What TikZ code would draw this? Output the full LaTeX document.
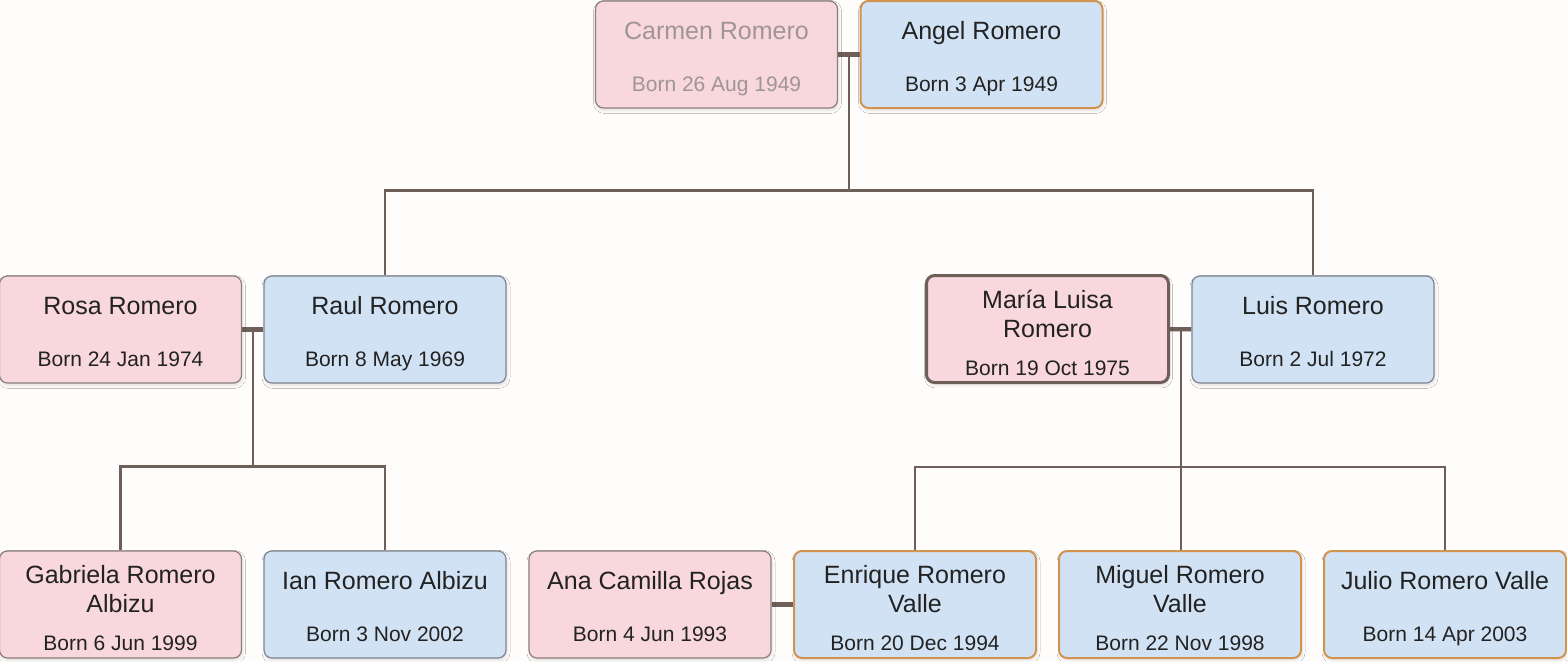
\documentclass[tikz,border=0pt]{standalone}
\usepackage{fontspec}
\setmainfont{Liberation Sans}
\usetikzlibrary{calc,shadows.blur}
\pgfdeclarelayer{background}
\pgfsetlayers{background,main}
\definecolor{pinkf}{HTML}{F8D7DD}
\definecolor{bluef}{HTML}{D1E2F4}
\definecolor{pinkb}{HTML}{8C7E7E}
\definecolor{blueb}{HTML}{7E8590}
\definecolor{orangeb}{HTML}{D2934F}
\definecolor{linec}{HTML}{6E5F58}
\definecolor{txt}{HTML}{222222}
\definecolor{faded}{HTML}{A09595}
\definecolor{bg}{HTML}{FEFDFC}
\begin{document}
\begin{tikzpicture}[x=0.5pt,y=-0.5pt,
 person/.style={rounded corners=4pt, minimum width=121pt, minimum height=53.5pt, inner sep=0pt, line width=0.6pt,
   blur shadow={shadow xshift=0.5pt, shadow yshift=-1.2pt, shadow opacity=12, shadow blur radius=1.5pt, shadow blur steps=4}},
 female/.style={person, fill=pinkf, draw=pinkb},
 male/.style={person, fill=bluef, draw=blueb},
 hl/.style={draw=orangeb, line width=1pt},
 focus/.style={draw=linec, line width=1.5pt},
 nm/.style={font=\fontsize{12.5}{14}\selectfont, text=txt, anchor=base, inner sep=0pt},
 bd/.style={font=\fontsize{10.5}{12}\selectfont, text=txt, anchor=base, inner sep=0pt},
 fadedtext/.style={text=faded},
 couple/.style={draw=linec, line width=2.2pt},
 link/.style={draw=linec, line width=1.1pt}]
\useasboundingbox (0,0) rectangle (1567,661);
% boxes
\node[female] (carmen) at (716.5,54.5) {};
\node[male,hl] (angel) at (981.5,54.5) {};
\node[female] (rosa) at (120.5,329.5) {};
\node[male] (raul) at (385,329.5) {};
\node[female,focus] (maria) at (1047.5,329) {};
\node[male] (luis) at (1313,329.5) {};
\node[female] (gab) at (120.5,604.5) {};
\node[male] (ian) at (385,604.5) {};
\node[female] (ana) at (650,604.5) {};
\node[male,hl] (enr) at (915,604.5) {};
\node[male,hl] (mig) at (1180,604.5) {};
\node[male,hl] (jul) at (1445,604.5) {};
% texts
\node[nm,fadedtext] (carmenN) at ($(carmen.north)+(0,39)$) {Carmen Romero};
\node[bd,fadedtext] (carmenB) at ($(carmen.north)+(0,91)$) {Born 26 Aug 1949};
\node[nm] (angelN) at ($(angel.north)+(0,39)$) {Angel Romero};
\node[bd] (angelB) at ($(angel.north)+(0,91)$) {Born 3 Apr 1949};
\node[nm] (rosaN) at ($(rosa.north)+(0,39)$) {Rosa Romero};
\node[bd] (rosaB) at ($(rosa.north)+(0,91)$) {Born 24 Jan 1974};
\node[nm] (raulN) at ($(raul.north)+(0,39)$) {Raul Romero};
\node[bd] (raulB) at ($(raul.north)+(0,91)$) {Born 8 May 1969};
\node[nm] (mariaN1) at ($(maria.north)+(0,34)$) {María Luisa};
\node[nm] (mariaN2) at ($(maria.north)+(0,63)$) {Romero};
\node[bd] (mariaB) at ($(maria.north)+(0,101)$) {Born 19 Oct 1975};
\node[nm] (luisN) at ($(luis.north)+(0,39)$) {Luis Romero};
\node[bd] (luisB) at ($(luis.north)+(0,91)$) {Born 2 Jul 1972};
\node[nm] (gabN1) at ($(gab.north)+(0,33)$) {Gabriela Romero};
\node[nm] (gabN2) at ($(gab.north)+(0,62)$) {Albizu};
\node[bd] (gabB) at ($(gab.north)+(0,100.5)$) {Born 6 Jun 1999};
\node[nm] (ianN) at ($(ian.north)+(0,39)$) {Ian Romero Albizu};
\node[bd] (ianB) at ($(ian.north)+(0,91)$) {Born 3 Nov 2002};
\node[nm] (anaN) at ($(ana.north)+(0,39)$) {Ana Camilla Rojas};
\node[bd] (anaB) at ($(ana.north)+(0,91)$) {Born 4 Jun 1993};
\node[nm] (enrN1) at ($(enr.north)+(0,33)$) {Enrique Romero};
\node[nm] (enrN2) at ($(enr.north)+(0,62)$) {Valle};
\node[bd] (enrB) at ($(enr.north)+(0,100.5)$) {Born 20 Dec 1994};
\node[nm] (migN1) at ($(mig.north)+(0,33)$) {Miguel Romero};
\node[nm] (migN2) at ($(mig.north)+(0,62)$) {Valle};
\node[bd] (migB) at ($(mig.north)+(0,100.5)$) {Born 22 Nov 1998};
\node[nm] (julN) at ($(jul.north)+(0,39)$) {Julio Romero Valle};
\node[bd] (julB) at ($(jul.north)+(0,91)$) {Born 14 Apr 2003};
% connectors
\begin{pgfonlayer}{background}
\fill[bg] (0,0) rectangle (1567,661);
\coordinate (cA) at ($(carmen.east)!0.5!(angel.west)$);
\coordinate (cR) at ($(rosa.east)!0.5!(raul.west)$);
\coordinate (cM) at ($(maria.east)!0.5!(luis.west)$);
\draw[couple] (carmen) -- (angel);
\draw[couple] (rosa) -- (raul);
\draw[couple] (maria) -- (luis);
\draw[couple] (ana) -- (enr);
\draw[link] (raul.north) -- ++(0,-85) coordinate (b1) -| (luis.north);
\draw[link] (cA) -- (cA |- b1);
\draw[link] (gab.north) -- ++(0,-84) coordinate (b2) -| (ian.north);
\draw[link] (cR) -- (cR |- b2);
\draw[link] (enr.north) -- ++(0,-83) coordinate (b3) -| (jul.north);
\draw[link] (cM) -- (cM |- mig.north);
\end{pgfonlayer}
\end{tikzpicture}
\end{document}
